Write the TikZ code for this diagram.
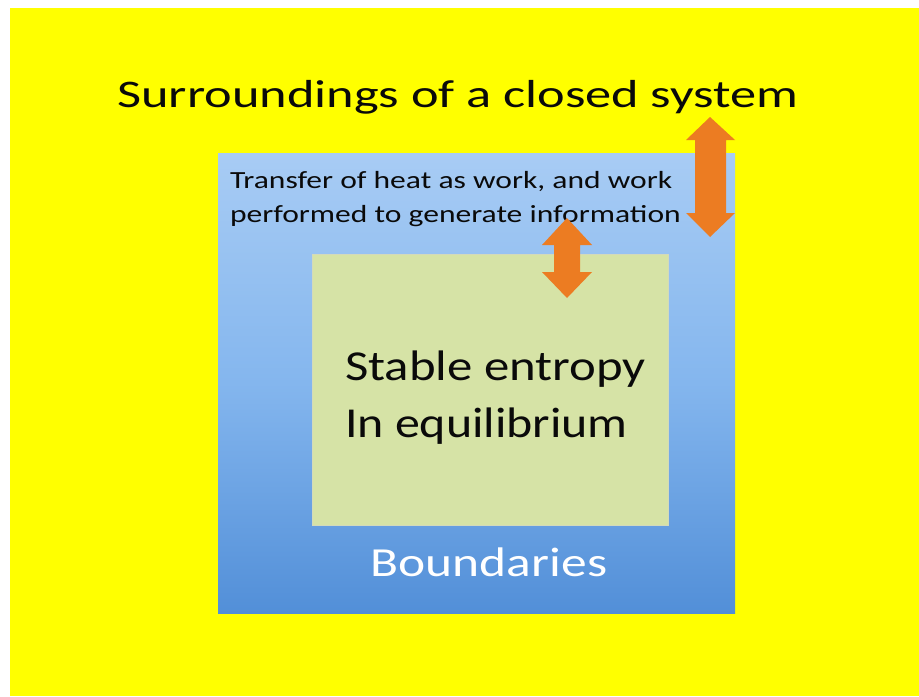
\documentclass[tikz,border=0pt]{standalone}
\usepackage{graphicx}
\usepackage{fontspec}
\setmainfont{Carlito}
\definecolor{bgyellow}{RGB}{255,255,0}
\definecolor{bluetop}{RGB}{168,204,244}
\definecolor{bluemid}{RGB}{132,182,238}
\definecolor{bluebot}{RGB}{82,143,216}
\definecolor{innergreen}{RGB}{214,227,166}
\definecolor{arroworange}{RGB}{236,124,34}
\definecolor{textdark}{RGB}{10,10,10}
\tikzset{
  boxnode/.style={rectangle, inner sep=0pt, outer sep=0pt},
  txt/.style={inner sep=0pt, outer sep=0pt, text=textdark},
  arrowfill/.style={fill=arroworange, draw=none}
}
\begin{document}
\begin{tikzpicture}[x=0.75pt,y=-0.75pt]
\useasboundingbox (0,0) rectangle (919,696);
\fill[white] (0,0) rectangle (919,696);
\fill[bgyellow] (10,8) rectangle (919,696);
% outer system box
\node[boxnode, minimum width=387.75pt, minimum height=345pt, top color=bluetop, bottom color=bluebot, middle color=bluemid] (outer) at (476.5,383) {};
% inner box
\node[boxnode, minimum width=267pt, minimum height=203.25pt, fill=innergreen, draw=innergreen!85!black!60!white, line width=0.5pt] (inner) at (490,389.5) {};
% texts
\node[txt, anchor=base, font=\fontsize{29.3}{32}\selectfont] (title) at (458,107) {\scalebox{1.34}[1]{Surroundings of a closed system}};
\node[txt, anchor=base west, font=\fontsize{18.5}{22}\selectfont] (t1) at (230,188) {\scalebox{1.28}[1]{Transfer of heat as work, and work}};
\node[txt, anchor=base west, font=\fontsize{18.5}{22}\selectfont] (t2) at (230,222) {\scalebox{1.28}[1]{performed to generate information}};
\node[txt, anchor=base west, font=\fontsize{32}{36}\selectfont] (s1) at (345,380) {\scalebox{1.19}[1]{Stable entropy}};
\node[txt, anchor=base west, font=\fontsize{32}{36}\selectfont] (s2) at (345,437) {\scalebox{1.17}[1]{In equilibrium}};
\node[txt, anchor=base, text=white, font=\fontsize{31}{34}\selectfont] (bnd) at (489,576) {\scalebox{1.245}[1]{Boundaries}};
% big double arrow
\fill[arrowfill] (710,117) -- (735,140) -- (726,140) -- (726,213) -- (735,213) -- (710,237) -- (686,213) -- (695,213) -- (695,140) -- (686,140) -- cycle;
% small double arrow
\fill[arrowfill] (567,218) -- (592,245) -- (580,245) -- (580,272) -- (592,272) -- (567,298) -- (542,272) -- (554,272) -- (554,245) -- (542,245) -- cycle;
\end{tikzpicture}
\end{document}
